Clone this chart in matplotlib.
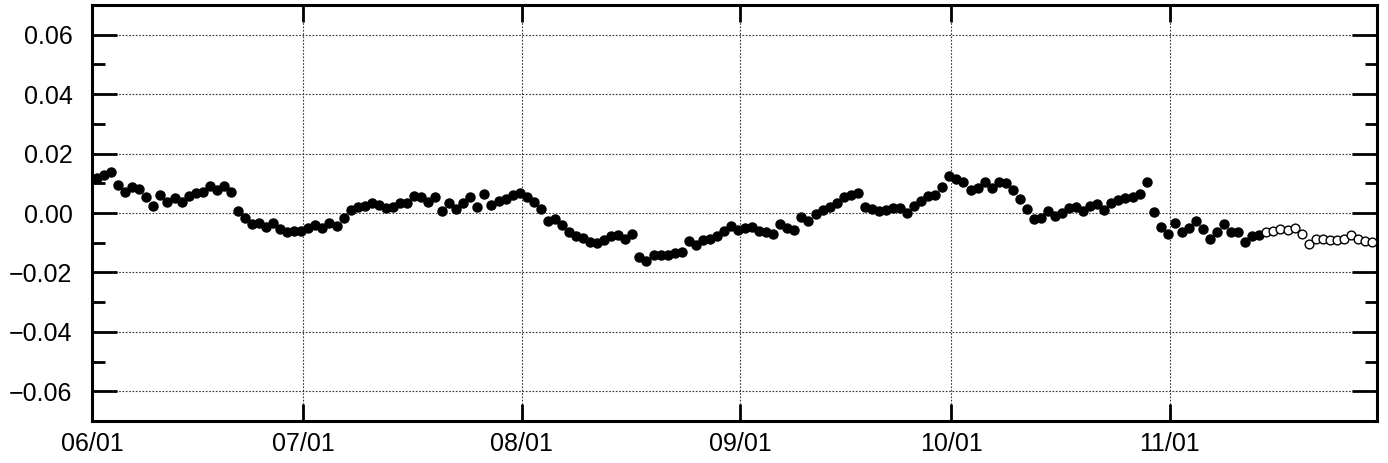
import matplotlib
matplotlib.use("Agg")
import matplotlib.pyplot as plt
import matplotlib.dates as mdates
from matplotlib.ticker import MultipleLocator
import pandas as pd

plt.rcParams['font.family'] = ['Liberation Sans', 'DejaVu Sans']

# daily values, observed (filled) then forecast (open)
observed = [
    0.0118, 0.0128, 0.0138, 0.0093, 0.0072, 0.0089, 0.0080, 0.0053, 0.0024, 0.0061,
    0.0036, 0.0052, 0.0038, 0.0058, 0.0067, 0.0070, 0.0092, 0.0076, 0.0092, 0.0072,
    0.0008, -0.0018, -0.0037, -0.0035, -0.0046, -0.0033, -0.0054, -0.0063, -0.0060, -0.0061,
    -0.0052, -0.0041,
    -0.0049, -0.0033, -0.0044, -0.0018, 0.0010, 0.0019, 0.0024, 0.0033, 0.0027, 0.0016,
    0.0021, 0.0033, 0.0035, 0.0058, 0.0055, 0.0038, 0.0053, 0.0008, 0.0033, 0.0012,
    0.0033, 0.0055, 0.0021, 0.0064, 0.0027, 0.0042, 0.0046, 0.0061, 0.0069, 0.0055,
    0.0036, 0.0012, -0.0027, -0.0021, -0.0041, -0.0063, -0.0078, -0.0084, -0.0097, -0.0101,
    -0.0092, -0.0078, -0.0075, -0.0086, -0.0071, -0.0148, -0.0162, -0.0140, -0.0142, -0.0142,
    -0.0134, -0.0131, -0.0094, -0.0108, -0.0092, -0.0089, -0.0078, -0.0060, -0.0044, -0.0058,
    -0.0052,
    -0.0046, -0.0060, -0.0063, -0.0071, -0.0037, -0.0052, -0.0058, -0.0012, -0.0026, -0.0003,
    0.0010, 0.0021, 0.0035, 0.0055, 0.0061, 0.0067, 0.0019, 0.0012, 0.0008, 0.0010,
    0.0016, 0.0016, 0.0001, 0.0024, 0.0042, 0.0058, 0.0061, 0.0089, 0.0123, 0.0114,
    0.0106,
    0.0076, 0.0084, 0.0103, 0.0084, 0.0106, 0.0101, 0.0078, 0.0046, 0.0012, -0.0021,
    -0.0016, 0.0008, -0.0010, -0.0001, 0.0016, 0.0021, 0.0007, 0.0025, 0.0031, 0.0010,
    0.0033, 0.0044, 0.0050, 0.0053, 0.0064, 0.0106, 0.0004, -0.0046, -0.0069, -0.0035,
    -0.0063,
    -0.0052, -0.0026, -0.0055, -0.0086, -0.0063, -0.0038, -0.0063, -0.0063, -0.0097, -0.0078,
    -0.0075,
]
forecast = [
    -0.0063, -0.0060, -0.0055, -0.0058, -0.0052, -0.0069, -0.0103, -0.0088, -0.0088, -0.0092,
    -0.0092, -0.0088, -0.0075, -0.0088, -0.0095, -0.0099,
]

start = pd.Timestamp("2023-06-01")
days = pd.date_range(start, periods=len(observed) + len(forecast), freq="D") + pd.Timedelta(hours=17)
obs_days = days[:len(observed)]
fc_days = days[len(observed):]

fig = plt.figure(figsize=(13.88, 4.63), dpi=100)
ax = fig.add_axes([0.0663, 0.0907, 0.9258, 0.8985])

ax.plot(obs_days, observed, 'o', color='black', markersize=6.5, zorder=3)
ax.plot(fc_days, forecast, 'o', markerfacecolor='white', markeredgecolor='black',
        markeredgewidth=1.0, markersize=6.3, zorder=3)

ax.set_xlim(start, pd.Timestamp("2023-11-30 10:00"))
ax.set_ylim(-0.07, 0.07)

ax.xaxis.set_major_locator(mdates.MonthLocator())
ax.xaxis.set_major_formatter(mdates.DateFormatter("%m/%d"))
ax.yaxis.set_major_locator(MultipleLocator(0.02))
ax.yaxis.set_minor_locator(MultipleLocator(0.01))
ax.yaxis.set_major_formatter(lambda v, p: f"{v:.2f}".replace("-", "\u2212"))

ax.grid(True, which='major', linestyle=(0, (1.5, 1.5)), color='#333333', linewidth=0.8)
ax.tick_params(axis='both', which='both', direction='in', top=True, right=True,
               labelsize=18, width=2)
ax.tick_params(axis='y', which='major', length=18, pad=14)
ax.tick_params(axis='y', which='minor', length=9)
ax.tick_params(axis='x', which='major', length=12, pad=8)
for sp in ax.spines.values():
    sp.set_linewidth(2.2)

fig.savefig("out.png", dpi=100)
